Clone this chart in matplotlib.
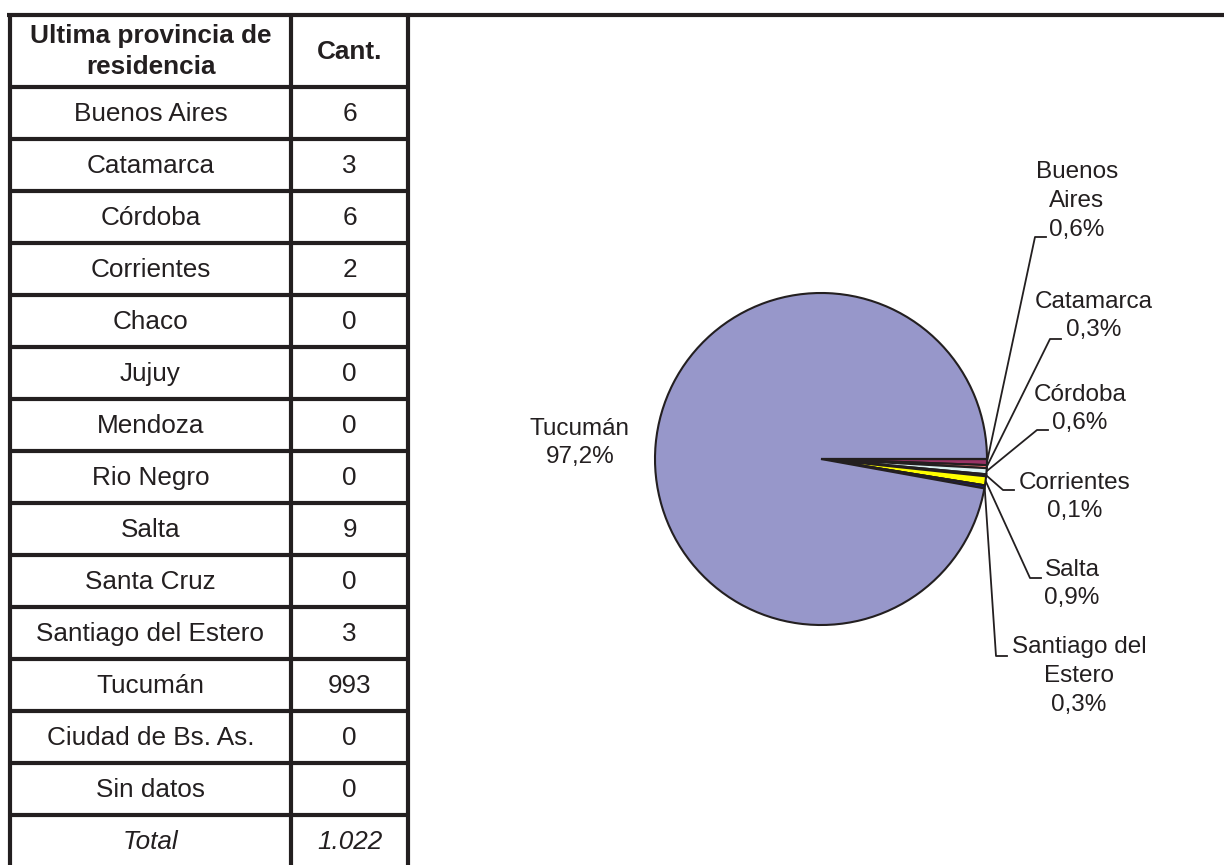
import numpy as np
import matplotlib
matplotlib.use('Agg')
import matplotlib.pyplot as plt

plt.rcParams['font.family'] = ['Liberation Sans', 'DejaVu Sans']

# ----------- DATA -------------
provincias = ['Buenos Aires', 'Catamarca', 'Córdoba', 'Corrientes', 'Chaco',
              'Jujuy', 'Mendoza', 'Rio Negro', 'Salta', 'Santa Cruz',
              'Santiago del Estero', 'Tucumán', 'Ciudad de Bs. As.', 'Sin datos']
cantidades = [6, 3, 6, 2, 0, 0, 0, 0, 9, 0, 3, 993, 0, 0]
header = ['Ultima provincia de\nresidencia', 'Cant.']

# pie labels as printed on the chart (only non-zero slices)
pie_names = {'Buenos Aires': 'Buenos\nAires', 'Catamarca': 'Catamarca',
             'Córdoba': 'Córdoba', 'Corrientes': 'Corrientes', 'Salta': 'Salta',
             'Santiago del Estero': 'Santiago del\nEstero', 'Tucumán': 'Tucumán'}
pie_pct = {'Buenos Aires': '0,6%', 'Catamarca': '0,3%', 'Córdoba': '0,6%',
           'Corrientes': '0,1%', 'Salta': '0,9%', 'Santiago del Estero': '0,3%',
           'Tucumán': '97,2%'}
colores = ['#993366', '#FF8080', '#DDF3F3', '#660066', '#0066CC', '#CCCCFF',
           '#000080', '#FF00FF', '#FFFF00', '#00FFFF', '#1A1A80', '#9797CA',
           '#800000', '#008080']
# -------------------------------------

ink = '#231F20'
W, H = 1224, 865
fig = plt.figure(figsize=(W / 100, H / 100), dpi=100)

# overlay in pixel coordinates
ax = fig.add_axes([0, 0, 1, 1])
ax.set_xlim(0, W)
ax.set_ylim(H, 0)
ax.axis('off')

# ----------- TABLE ------------
x_left, x_mid, x_right = 10, 291, 408
y_top, y_head = 14.5, 87
row_h = 52
lw = 3

ax.plot([7, W], [y_top, y_top], color=ink, lw=lw, solid_capstyle='butt')
for x in (x_left, x_mid, x_right):
    ax.plot([x, x], [y_top, H], color=ink, lw=lw, solid_capstyle='butt')
n_rows = len(provincias) + 1
for k in range(n_rows):
    y = y_head + k * row_h
    ax.plot([x_left, x_right], [y, y], color=ink, lw=lw, solid_capstyle='butt')

fs = 18.8
c1 = (x_left + x_mid) / 2
c2 = (x_mid + x_right) / 2
ax.text(c1, (y_top + y_head) / 2 + 1, header[0], ha='center', va='center',
        fontsize=fs, fontweight='bold', color=ink, linespacing=1.35)
ax.text(c2, (y_top + y_head) / 2 + 1, header[1], ha='center', va='center',
        fontsize=fs, fontweight='bold', color=ink)

for i, (p, c) in enumerate(zip(provincias, cantidades)):
    yc = y_head + i * row_h + row_h / 2 + 1
    ax.text(c1, yc, p, ha='center', va='center', fontsize=fs, color=ink)
    ax.text(c2, yc, str(c), ha='center', va='center', fontsize=fs, color=ink)

total = sum(cantidades)
yc = y_head + len(provincias) * row_h + row_h / 2 + 1
ax.text(c1, yc, 'Total', ha='center', va='center', fontsize=fs,
        style='italic', color=ink)
ax.text(c2, yc, f'{total:,}'.replace(',', '.'), ha='center', va='center',
        fontsize=fs, style='italic', color=ink)

# ----------- PIE ------------
cx, cy, R = 821, 459, 166
pad = 1.012
pax = fig.add_axes([(cx - R * pad) / W, (H - cy - R * pad) / H,
                    2 * R * pad / W, 2 * R * pad / H])
wedges, _ = pax.pie(cantidades, colors=colores, startangle=0, counterclock=False,
                    radius=1, wedgeprops=dict(edgecolor=ink, linewidth=1.5))
pax.set_xlim(-pad, pad)
pax.set_ylim(-pad, pad)
pax.axis('off')

# label placement (pixel coordinates): elbow of leader line and text centre
label_pos = {
    'Buenos Aires': ((1035, 237), (1077, 201)),
    'Catamarca': ((1050, 339), (1094, 316)),
    'Córdoba': ((1037, 430), (1080, 409)),
    'Corrientes': ((1003, 490), (1075, 497)),
    'Salta': ((1030, 578), (1072, 584)),
    'Santiago del Estero': ((996, 656), (1079, 676)),
}

for w, p in zip(wedges, provincias):
    if p not in label_pos:
        continue
    mid = np.deg2rad((w.theta1 + w.theta2) / 2)
    ex, ey = cx + R * np.cos(mid), cy - R * np.sin(mid)
    (bx, by), (tx, ty) = label_pos[p]
    ax.plot([ex, bx, bx + 11], [ey, by, by], color=ink, lw=1.3)
    ax.text(tx, ty, pie_names[p] + '\n' + pie_pct[p], ha='center', va='center',
            fontsize=17.5, color=ink, linespacing=1.4, multialignment='center')

ax.text(580, 443, pie_names['Tucumán'] + '\n' + pie_pct['Tucumán'], ha='center',
        va='center', fontsize=17.5, color=ink, linespacing=1.4)

fig.savefig('out.png', dpi=100)
